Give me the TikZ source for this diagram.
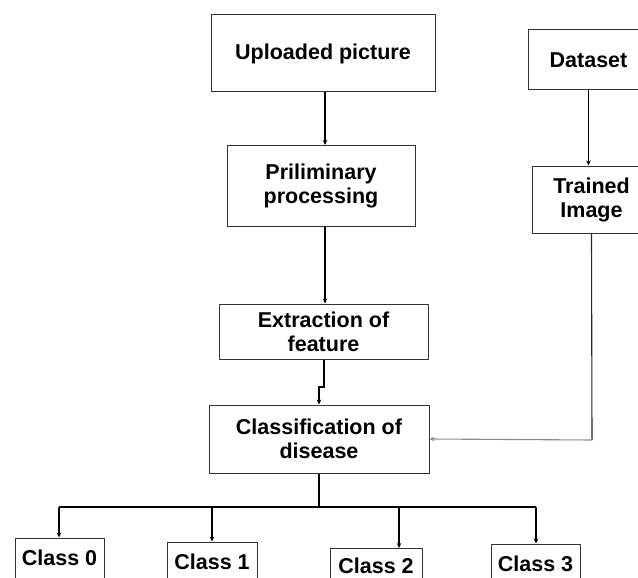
\documentclass[tikz,border=0pt]{standalone}
\usepackage{fontspec}
\setmainfont{Liberation Sans}
\usetikzlibrary{
  arrows.meta,
  positioning,
  calc}
\tikzset{every picture/.style={font issue=\fontsize{21.5}{24}},
         font issue/.style={execute at begin picture={#1\selectfont\bfseries}}
        }
\tikzset{blockbox/.style={draw=black!80, line width=1pt, fill=white, align=center, inner sep=0pt},
         link/.style={line width=1.1pt, -{Stealth[length=5pt,width=4.5pt]}},
         plainlink/.style={line width=1.1pt}
        }

\begin{document}
\begin{tikzpicture}[x=1pt, y=-1pt]

\useasboundingbox (0,0) rectangle (638,578);
\clip (0,0) rectangle (638,578);

%left column
\node[blockbox, minimum width=224pt, minimum height=77pt] (upl) at (323,53.5) {Uploaded picture};
\node[blockbox, minimum width=188pt, minimum height=81pt] (prel) at (321,186) {Priliminary\\processing};
\node[blockbox, minimum width=209pt, minimum height=55pt] (extr) at (323.5,331.5) {Extraction of\\feature};
\node[blockbox, minimum width=220pt, minimum height=68pt] (clas) at (319,439) {Classification of\\disease};

%right column
\node[blockbox, minimum width=121pt, minimum height=60pt] (data) at (588.5,60) {Dataset};
\node[blockbox, minimum width=119pt, minimum height=67pt] (train) at (591.5,199.5) {Trained\\Image};

%classes
\node[blockbox, minimum width=89pt, minimum height=40pt] (c0) at (59.5,558) {Class 0};
\node[blockbox, minimum width=90pt, minimum height=40pt] (c1) at (212,562) {Class 1};
\node[blockbox, minimum width=92pt, minimum height=36pt] (c2) at (376,566) {Class 2};
\node[blockbox, minimum width=89pt, minimum height=40pt] (c3) at (535.5,564) {Class 3};

\coordinate (jog) at (324,387);
\coordinate (tcorner) at (592,440);
\coordinate (bus0) at (59,507);
\coordinate (bus3) at (536,507);
\coordinate (c2in) at (399,548);

\draw[link] (upl.south -| 325,0) -- (prel.north -| 325,0);
\draw[link] (prel.south -| 325,0) -- (extr.north -| 325,0);
\draw[link] (extr.south -| jog) -- (jog) -- (jog -| clas.north) -- (clas.north);

\draw[link] (data.south) -- (data.south |- train.north);
\draw[plainlink, black!85] (train.south) -- (tcorner);
\draw[link, black!45] (tcorner) -- (clas.east);

\draw[plainlink] (clas.south) -- (clas.south |- bus0);
\draw[line width=2pt] (bus0) -- (bus3);
\draw[link] (bus0) -- (c0.north -| bus0);
\draw[link] (c1.north |- bus0) -- (c1.north);
\draw[link] (c2in |- bus0) -- (c2in);
\draw[link] (bus3) -- (c3.north -| bus3);

\end{tikzpicture}
\end{document}
